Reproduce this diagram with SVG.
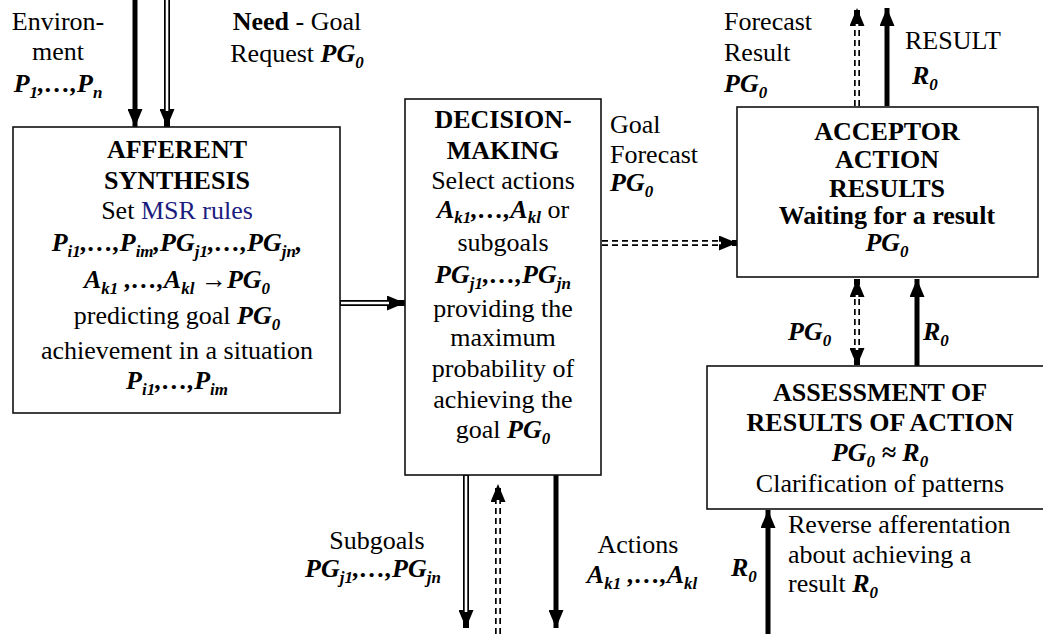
<svg xmlns="http://www.w3.org/2000/svg" width="1043" height="634" viewBox="0 0 1043 634">
<style>
.t{font-family:"Liberation Serif","DejaVu Serif",serif;font-size:26px;fill:#000}
.m{text-anchor:middle}
.b{font-weight:bold}
.bi{font-weight:bold;font-style:italic}
.s{font-size:17px;font-weight:bold;font-style:italic}
.box{fill:#fff;stroke:#111;stroke-width:1.6}
.thick{fill:none;stroke:#000;stroke-width:5}
.dbl{fill:none;stroke:#000;stroke-width:6}
.dash{fill:none;stroke:#000;stroke-width:6;stroke-dasharray:6 4}
.inner{fill:none;stroke:#fff;stroke-width:2.6}
</style>
<defs>
<marker id="ah" markerUnits="userSpaceOnUse" markerWidth="18" markerHeight="15" viewBox="0 0 18 15" refX="18" refY="7.5" orient="auto-start-reverse">
<path d="M0,0 L18,7.5 L0,15 z" fill="#000"/>
</marker>
</defs>
<rect width="1043" height="634" fill="#fff"/>

<g id="connectors">
<path class="thick" d="M135,0 L135,127" marker-end="url(#ah)"/>
<path class="dbl" d="M167,0 L167,127" marker-end="url(#ah)"/>
<path class="inner" d="M167,0 L167,111"/>
<path class="dbl" d="M340,303 L405,303" marker-end="url(#ah)"/>
<path class="inner" d="M341,303 L389,303"/>
<path class="dash" d="M602,243 L737,243" marker-end="url(#ah)"/>
<path class="inner" d="M602,243 L721,243"/>
<path class="dash" d="M857,106 L857,8" marker-end="url(#ah)"/>
<path class="inner" d="M857,106 L857,24"/>
<path class="thick" d="M887,106 L887,8" marker-end="url(#ah)"/>
<path class="dash" d="M857,279 L857,366" marker-start="url(#ah)" marker-end="url(#ah)"/>
<path class="inner" d="M857,295 L857,350"/>
<path class="thick" d="M917,366 L917,279" marker-end="url(#ah)"/>
<path class="thick" d="M768,634 L768,510" marker-end="url(#ah)"/>
<path class="dbl" d="M466,475 L466,628" marker-end="url(#ah)"/>
<path class="inner" d="M466,476 L466,612"/>
<path class="dash" d="M498,634 L498,484" marker-end="url(#ah)"/>
<path class="inner" d="M498,634 L498,500"/>
<path class="thick" d="M556,475 L556,628" marker-end="url(#ah)"/>
</g>

<g id="labels">
<text class="t m" x="58" y="30">Environ-</text>
<text class="t m" x="58" y="60">ment</text>
<text class="t m bi" x="58" y="92">P<tspan class="s" dy="6">1</tspan><tspan dy="-6">,…,P</tspan><tspan class="s" dy="6">n</tspan></text>
<text class="t m" x="297" y="30"><tspan class="b">Need</tspan> - Goal</text>
<text class="t m" x="297" y="62">Request <tspan class="bi">PG</tspan><tspan class="s" dy="6">0</tspan></text>

<text class="t" x="610" y="133">Goal</text>
<text class="t" x="610" y="163">Forecast</text>
<text class="t bi" x="610" y="191">PG<tspan class="s" dy="6">0</tspan></text>

<text class="t" x="724" y="30">Forecast</text>
<text class="t" x="724" y="61">Result</text>
<text class="t bi" x="724" y="92">PG<tspan class="s" dy="6">0</tspan></text>

<text class="t" x="905" y="49">RESULT</text>
<text class="t bi" x="912" y="84">R<tspan class="s" dy="6">0</tspan></text>

<text class="t bi" x="788" y="340">PG<tspan class="s" dy="6">0</tspan></text>
<text class="t bi" x="923" y="340">R<tspan class="s" dy="6">0</tspan></text>

<text class="t" x="788" y="533">Reverse afferentation</text>
<text class="t" x="788" y="563">about achieving a</text>
<text class="t" x="788" y="592">result <tspan class="bi">R</tspan><tspan class="s" dy="6">0</tspan></text>
<text class="t bi" x="731" y="576">R<tspan class="s" dy="6">0</tspan></text>

<text class="t m" x="377" y="549">Subgoals</text>
<text class="t m bi" x="373" y="577">PG<tspan class="s" dy="6">j1</tspan><tspan dy="-6">,…,PG</tspan><tspan class="s" dy="6">jn</tspan></text>
<text class="t m" x="638" y="553">Actions</text>
<text class="t m bi" x="642" y="583">A<tspan class="s" dy="6">k1</tspan><tspan dy="-6"> ,…,A</tspan><tspan class="s" dy="6">kl</tspan></text>
</g>

<g id="afferent">
<rect class="box" x="13" y="127" width="327" height="286"/>
<text class="t m b" x="177" y="158">AFFERENT</text>
<text class="t m b" x="177" y="189">SYNTHESIS</text>
<text class="t m" x="177" y="219">Set <tspan fill="#1c1c80">MSR rules</tspan></text>
<text class="t m bi" x="177" y="251">P<tspan class="s" dy="6">i1</tspan><tspan dy="-6">,…,P</tspan><tspan class="s" dy="6">im</tspan><tspan dy="-6">,PG</tspan><tspan class="s" dy="6">j1</tspan><tspan dy="-6">,…,PG</tspan><tspan class="s" dy="6">jn</tspan><tspan dy="-6">,</tspan></text>
<text class="t m bi" x="177" y="288">A<tspan class="s" dy="6">k1</tspan><tspan dy="-6"> ,…,A</tspan><tspan class="s" dy="6">kl</tspan><tspan dy="-6"> →PG</tspan><tspan class="s" dy="6">0</tspan></text>
<text class="t m" x="177" y="324">predicting goal <tspan class="bi">PG</tspan><tspan class="s" dy="6">0</tspan></text>
<text class="t m" x="177" y="359">achievement in a situation</text>
<text class="t m bi" x="177" y="389">P<tspan class="s" dy="6">i1</tspan><tspan dy="-6">,…,P</tspan><tspan class="s" dy="6">im</tspan></text>
</g>

<g id="decision">
<rect class="box" x="405" y="99" width="196" height="376"/>
<text class="t m b" x="503" y="128">DECISION-</text>
<text class="t m b" x="503" y="159">MAKING</text>
<text class="t m" x="503" y="189">Select actions</text>
<text class="t m" x="503" y="218"><tspan class="bi">A</tspan><tspan class="s" dy="5">k1</tspan><tspan class="bi" dy="-5">,…,A</tspan><tspan class="s" dy="5">kl</tspan><tspan dy="-5"> or</tspan></text>
<text class="t m" x="503" y="251">subgoals</text>
<text class="t m bi" x="503" y="283">PG<tspan class="s" dy="6">j1</tspan><tspan dy="-6">,…,PG</tspan><tspan class="s" dy="6">jn</tspan></text>
<text class="t m" x="503" y="317">providing the</text>
<text class="t m" x="503" y="346">maximum</text>
<text class="t m" x="503" y="377">probability of</text>
<text class="t m" x="503" y="408">achieving the</text>
<text class="t m" x="503" y="438">goal <tspan class="bi">PG</tspan><tspan class="s" dy="6">0</tspan></text>
</g>

<g id="acceptor">
<rect class="box" x="737" y="107" width="301" height="170"/>
<text class="t m b" x="887" y="140">ACCEPTOR</text>
<text class="t m b" x="887" y="168">ACTION</text>
<text class="t m b" x="887" y="197">RESULTS</text>
<text class="t m b" x="887" y="224">Waiting for a result</text>
<text class="t m bi" x="887" y="251">PG<tspan class="s" dy="6">0</tspan></text>
</g>

<g id="assessment">
<rect class="box" x="707" y="366" width="345" height="143"/>
<text class="t m b" x="880" y="401">ASSESSMENT OF</text>
<text class="t m b" x="880" y="431">RESULTS OF ACTION</text>
<text class="t m bi" x="880" y="461">PG<tspan class="s" dy="6">0</tspan><tspan dy="-6"> ≈ R</tspan><tspan class="s" dy="6">0</tspan></text>
<text class="t m" x="880" y="492">Clarification of patterns</text>
</g>
</svg>
